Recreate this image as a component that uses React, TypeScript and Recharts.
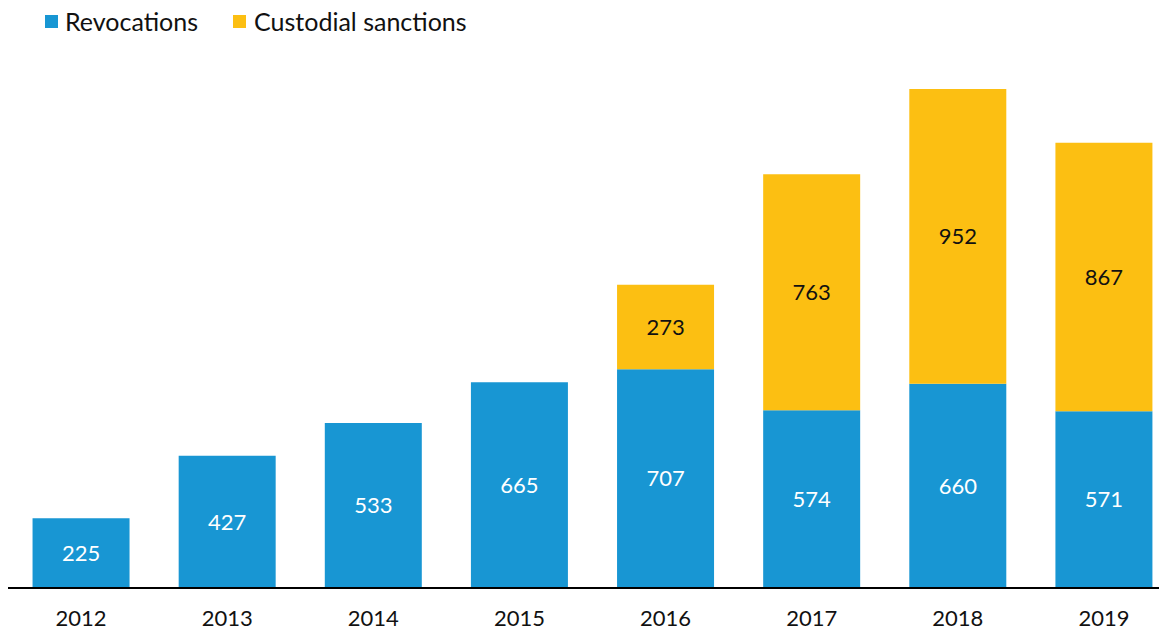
import React from 'react';
import { BarChart, Bar, XAxis, YAxis, LabelList } from 'recharts';

const years = ['2012', '2013', '2014', '2015', '2016', '2017', '2018', '2019'];
const revocations = [225, 427, 533, 665, 707, 574, 660, 571];
const custodial: (number | null)[] = [null, null, null, null, 273, 763, 952, 867];

const BLUE = '#1896D3';
const YELLOW = '#FCBF12';
const FONT = 'Lato, "Noto Sans", sans-serif';

const data = years.map((y, i) => ({ year: y, rev: revocations[i], cust: custodial[i] }));

const LegendBox = () => (
  <div
    style={{
      position: 'absolute',
      top: -3,
      left: 37,
      width: 600,
      height: 32,
      display: 'flex',
      alignItems: 'center',
      fontFamily: FONT,
      fontSize: 25,
      color: '#111',
      zIndex: 2,
    }}
  >
    <span style={{ width: 13, height: 13, background: BLUE, display: 'inline-block', marginRight: 7, flex: 'none' }} />
    <span style={{ marginRight: 35, flex: 'none' }}>Revocations</span>
    <span style={{ width: 13, height: 13, background: YELLOW, display: 'inline-block', marginRight: 8, flex: 'none' }} />
    <span style={{ flex: 'none' }}>Custodial sanctions</span>
  </div>
);

export default function App() {
  return (
    <div style={{ position: 'relative', width: 1159, height: 623 }}>
      <LegendBox />
      <div style={{ width: 1159, height: 623, overflow: 'hidden' }}>
        <BarChart
          width={1169}
          height={623}
          data={data}
          margin={{ top: 81, right: 0, bottom: 0, left: 0 }}
          barCategoryGap="16.8%"
        >
          <XAxis
            dataKey="year"
            axisLine={{ stroke: '#000', strokeWidth: 2 }}
            tickLine={false}
            tickSize={0}
            tickMargin={22}
            height={43}
            tick={{ fill: '#111', fontSize: 22, fontFamily: FONT }}
          />
          <YAxis hide domain={[0, 1612]} allowDataOverflow />
          <Bar dataKey="rev" stackId="a" fill={BLUE} isAnimationActive={false}>
            <LabelList dataKey="rev" position="center" fill="#fff" fontSize={22} fontFamily={FONT} />
          </Bar>
          <Bar dataKey="cust" stackId="a" fill={YELLOW} isAnimationActive={false}>
            <LabelList
              dataKey="cust"
              position="center"
              fill="#111"
              fontSize={22}
              fontFamily={FONT}
              formatter={(v: any) => (v == null ? '' : v)}
            />
          </Bar>
        </BarChart>
      </div>
    </div>
  );
}
